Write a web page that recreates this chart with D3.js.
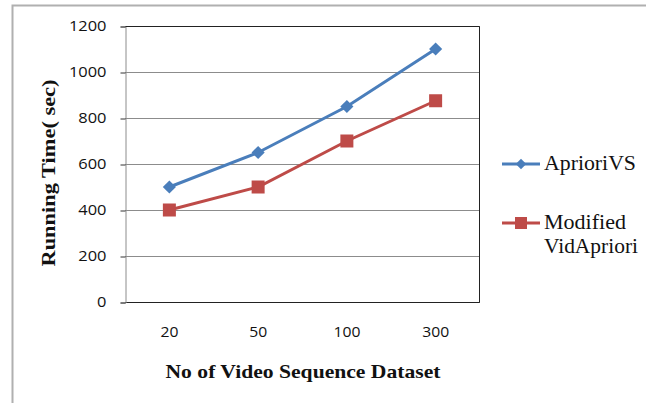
<!DOCTYPE html>
<html><head><meta charset="utf-8">
<script src="https://cdn.jsdelivr.net/npm/d3@7"></script>
<style>body{margin:0;background:#fff}svg{display:block}
.serif{font-family:"Liberation Serif","Times New Roman",serif}
.sans{font-family:"Open Sans","DejaVu Sans",sans-serif}</style>
</head><body>
<script>
const categories = ["20", "50", "100", "300"];
const aprioriVS = [500, 650, 850, 1100];
const modifiedVidApriori = [400, 500, 700, 875];
const yTicks = [0, 200, 400, 600, 800, 1000, 1200];
const seriesNames = ["AprioriVS", "Modified", "VidApriori"];

const W = 646, H = 403;
const svg = d3.select("body").append("svg").attr("width", W).attr("height", H);

// outer frame
svg.append("path").attr("d", `M12.5,${H} V5.5 H${W}`).attr("fill", "none")
  .attr("stroke", "#b0b0b0").attr("stroke-width", 2);

const L = 125, R = 480, T = 26, B = 302;
const x = d3.scaleBand().domain(categories).range([L, R]);
const y = d3.scaleLinear().domain([0, 1200]).range([B, T]);

// gridlines
svg.append("g").selectAll("line").data(yTicks).join("line")
  .attr("x1", L).attr("x2", R).attr("y1", d => y(d) + 0.5).attr("y2", d => y(d) + 0.5)
  .attr("stroke", "#8c8c8c").attr("stroke-width", 1);

// plot border
svg.append("path").attr("d", `M${L},${T + 0.5} H${R - 0.5} V${B + 0.5} H${L}`)
  .attr("fill", "none").attr("stroke", "#222").attr("stroke-width", 1);

// y axis
const yAxis = svg.append("g").attr("transform", `translate(${L + 0.5},0.5)`)
  .call(d3.axisLeft(y).tickValues(yTicks).tickSize(5).tickPadding(14).tickFormat(d3.format("d")));
yAxis.attr("font-family", null).attr("font-size", null);
yAxis.select(".domain").attr("stroke", "#8c8c8c");
yAxis.selectAll(".tick line").attr("stroke", "#333");
yAxis.selectAll("text").attr("class", "sans").style("font-size", "14px").attr("fill", "#111")
  .attr("textLength", function () { return this.textContent.length * 9.4; })
  .attr("lengthAdjust", "spacingAndGlyphs");

// x labels
const xAxis = svg.append("g").attr("transform", `translate(0,${B})`)
  .call(d3.axisBottom(x).tickSize(0).tickPadding(24));
xAxis.attr("font-family", null).attr("font-size", null);
xAxis.select(".domain").remove();
xAxis.selectAll("text").attr("class", "sans").style("font-size", "15px").attr("fill", "#111")
  .attr("textLength", function () { return this.textContent.length * 9; })
  .attr("lengthAdjust", "spacingAndGlyphs");

// axis titles
svg.append("text").attr("class", "serif").attr("x", 303).attr("y", 378).attr("text-anchor", "middle")
  .attr("font-weight", "bold").style("font-size", "19px").attr("fill", "#111")
  .attr("textLength", 275).attr("lengthAdjust", "spacingAndGlyphs")
  .text("No of Video Sequence Dataset");
svg.append("text").attr("class", "serif").attr("transform", "translate(55,173) rotate(-90)").attr("text-anchor", "middle")
  .attr("font-weight", "bold").style("font-size", "18px").attr("fill", "#111")
  .attr("textLength", 187).attr("lengthAdjust", "spacingAndGlyphs")
  .text("Running Time( sec)");

const cx = d => x(d) + x.bandwidth() / 2;
const blue = "#4a7ebb", red = "#be4b48";
const line = d3.line().x((d, i) => cx(categories[i])).y(d => y(d));

svg.append("path").datum(aprioriVS).attr("d", line).attr("fill", "none")
  .attr("stroke", blue).attr("stroke-width", 3);
svg.append("path").datum(modifiedVidApriori).attr("d", line).attr("fill", "none")
  .attr("stroke", red).attr("stroke-width", 3);

const diamond = d3.symbol().type(d3.symbolDiamond2).size(110);
svg.append("g").selectAll("path").data(aprioriVS).join("path")
  .attr("d", diamond).attr("fill", blue)
  .attr("transform", (d, i) => `translate(${cx(categories[i])},${y(d)})`);
svg.append("g").selectAll("rect").data(modifiedVidApriori).join("rect")
  .attr("x", (d, i) => cx(categories[i]) - 6.5).attr("y", d => y(d) - 6.5)
  .attr("width", 13).attr("height", 13).attr("fill", red);

// legend
const lg = svg.append("g");
lg.append("line").attr("x1", 502).attr("x2", 540).attr("y1", 164).attr("y2", 164)
  .attr("stroke", blue).attr("stroke-width", 3);
lg.append("path").attr("d", d3.symbol().type(d3.symbolDiamond2).size(70))
  .attr("transform", "translate(521,164)").attr("fill", blue);
lg.append("text").attr("class", "serif").attr("x", 544).attr("y", 170)
  .style("font-size", "20px").attr("fill", "#111")
  .attr("textLength", 92).attr("lengthAdjust", "spacingAndGlyphs").text(seriesNames[0]);
lg.append("line").attr("x1", 502).attr("x2", 540).attr("y1", 223).attr("y2", 223)
  .attr("stroke", red).attr("stroke-width", 3);
lg.append("rect").attr("x", 515).attr("y", 217).attr("width", 12).attr("height", 12).attr("fill", red);
lg.append("text").attr("class", "serif").attr("x", 544).attr("y", 229)
  .style("font-size", "20px").attr("fill", "#111")
  .attr("textLength", 82).attr("lengthAdjust", "spacingAndGlyphs").text(seriesNames[1]);
lg.append("text").attr("class", "serif").attr("x", 544).attr("y", 253)
  .style("font-size", "20px").attr("fill", "#111")
  .attr("textLength", 94).attr("lengthAdjust", "spacingAndGlyphs").text(seriesNames[2]);
</script>
</body></html>
